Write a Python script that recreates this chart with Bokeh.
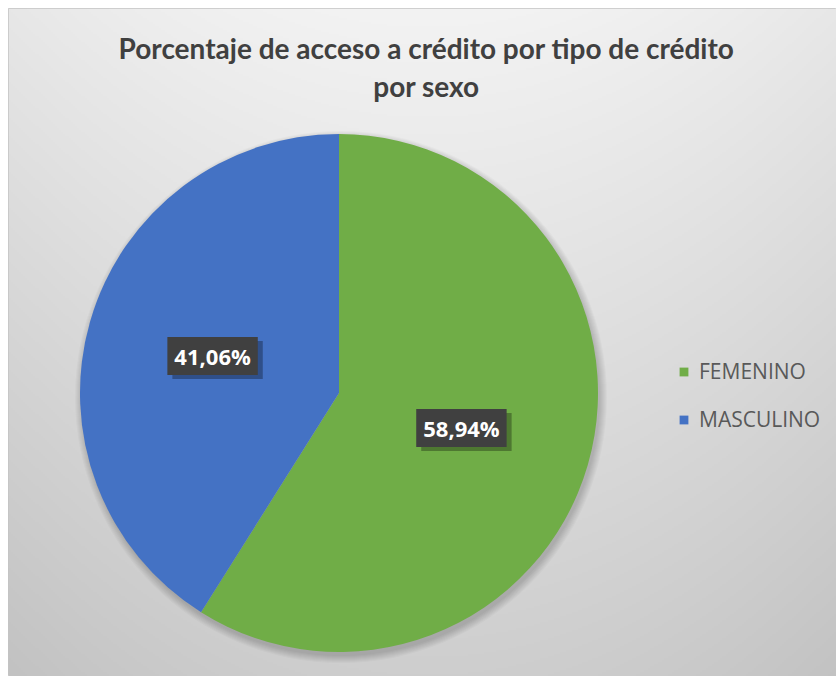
import numpy as np
from bokeh.plotting import figure
from bokeh.models import ColumnDataSource, Legend, LegendItem, Label, Range1d
from bokeh.core.properties import value
from bokeh.embed import file_html
from bokeh.resources import INLINE

# ---- data ----
categories = ["FEMENINO", "MASCULINO"]
percentages = [58.94, 41.06]
label_texts = ["58,94%", "41,06%"]
colors = ["#70ad47", "#4472c4"]
title_text = "Porcentaje de acceso a crédito por tipo de crédito\npor sexo"

# ---- layout ----
W, H = 828, 668          # chart frame
cx, cy, r = 330.5, 283.5, 259.0

p = figure(width=W + 8, height=H + 8, output_backend="svg", toolbar_location=None,
           x_range=Range1d(0, W), y_range=Range1d(0, H),
           min_border_left=8, min_border_top=8, min_border_right=0, min_border_bottom=0,
           x_axis_type=None, y_axis_type=None)
p.grid.visible = False
p.outline_line_color = "#c4c4c4"
p.background_fill_color = "#e0e0e0"
p.border_fill_color = "white"

# background gradient (decoration)
gx = np.linspace(0, W, W // 2)
gy = np.linspace(0, H, H // 2)
X, Y = np.meshgrid(gx, gy)
ytop = H - Y
v = 243 - 37 * (ytop / H) - 12 * ((X - 419) / 419) ** 2
v = np.clip(v, 0, 255).astype(np.uint8)
img = np.empty(X.shape, dtype=np.uint32)
view = img.view(dtype=np.uint8).reshape(X.shape + (4,))
view[..., 0] = v
view[..., 1] = v
view[..., 2] = v
view[..., 3] = 255
p.image_rgba(image=[img], x=0, y=0, dw=W, dh=H)

# soft pie shadow
for k in range(8):
    p.circle(x=[cx + 2], y=[cy - 4], radius=r + k, fill_color="black",
             fill_alpha=0.025, line_color=None)

# wedges
frac = np.array(percentages) / sum(percentages)
ends = np.pi / 2 - 2 * np.pi * np.cumsum(frac)
starts = np.concatenate([[np.pi / 2], ends[:-1]])
src = ColumnDataSource(dict(start=starts, end=ends, color=colors, cat=categories))
wr = p.wedge(x=cx, y=cy, radius=r, start_angle="start", end_angle="end",
             direction="clock", fill_color="color", line_color=None, source=src)

# data labels
mid = (starts + ends) / 2
lx = cx + 0.5 * r * np.cos(mid)
ly = cy + 0.5 * r * np.sin(mid)
lsrc = ColumnDataSource(dict(x=lx, y=ly, txt=label_texts))
# shadow of label boxes
p.text(x="x", y="y", text="txt", source=lsrc, text_align="center",
       text_baseline="middle", text_font=value("Open Sans"), text_font_style="bold",
       text_font_size="22px", text_alpha=0, background_fill_color="#000000",
       background_fill_alpha=0.3, padding=(7, 4), x_offset=3, y_offset=3)
p.text(x="x", y="y", text="txt", source=lsrc, text_align="center",
       text_baseline="middle", text_font=value("Open Sans"), text_font_style="bold",
       text_font_size="22px", text_color="white", background_fill_color="#404040",
       padding=(7, 4), x_offset=-2, y_offset=-1)

# title
p.add_layout(Label(x=418, y=H - 22, x_units="screen", y_units="screen",
                   text=title_text, text_align="center", text_baseline="top",
                   text_font="Lato", text_font_style="bold", text_font_size="28px",
                   text_color="#404040", text_line_height=1.12))

# legend
legend = Legend(items=[LegendItem(label=c, renderers=[wr], index=i)
                       for i, c in enumerate(categories)],
                location=(670, 243), orientation="vertical",
                border_line_color=None, background_fill_alpha=0,
                glyph_width=11, glyph_height=11, label_height=24,
                label_text_font="Open Sans", label_text_font_size="21px",
                label_text_color="#595959", label_standoff=10,
                spacing=20, padding=0, margin=0)
p.add_layout(legend)

open("out.html", "w").write(file_html(p, INLINE))
